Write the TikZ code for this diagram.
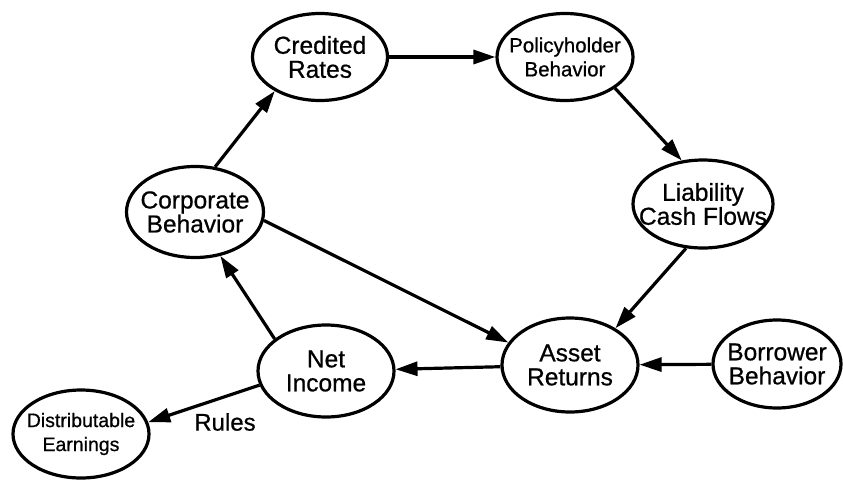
\documentclass[tikz,border=0pt]{standalone}
\usepackage{fontspec}
\setmainfont{Liberation Sans}[FakeBold=0.7]
\usetikzlibrary{shapes.geometric,arrows.meta}
\begin{document}
\begin{tikzpicture}[x=1pt,y=-1pt,
  bub/.style={draw, ellipse, line width=3.2pt, inner sep=0pt},
  txt/.style={align=center, font=\fontsize{24.5}{24}\selectfont, inner sep=0pt},
  stxt/.style={align=center, font=\fontsize{20.5}{24}\selectfont, inner sep=0pt},
  conn/.style={line width=3.2pt, -{Triangle[length=22pt,width=14pt]}}]
\useasboundingbox (0,0) rectangle (843,480);

\node[bub, minimum width=135pt, minimum height=87pt] (cr) at (320,57) {};
\node[txt] (crt) at (cr) {Credited\\Rates};

\node[bub, minimum width=136pt, minimum height=87pt] (ph) at (565,57) {};
\node[stxt] (pht) at (ph) {Policyholder\\Behavior};

\node[bub, minimum width=140pt, minimum height=88pt] (li) at (703,204) {};
\node[txt] (lit) at (li) {Liability\\Cash Flows};

\node[bub, minimum width=137pt, minimum height=91pt] (cb) at (195,212) {};
\node[txt] (cbt) at (cb) {Corporate\\Behavior};

\node[bub, minimum width=136pt, minimum height=94pt] (ar) at (570,365) {};
\node[txt] (art) at (ar) {Asset\\Returns};

\node[bub, minimum width=128pt, minimum height=88pt] (bb) at (777,364) {};
\node[txt] (bbt) at (bb) {Borrower\\Behavior};

\node[bub, minimum width=136pt, minimum height=92pt] (ni) at (326,371) {};
\node[txt] (nit) at (ni) {Net\\Income};

\node[bub, minimum width=136pt, minimum height=88pt] (de) at (81,434) {};
\node[stxt, font=\fontsize{19.5}{24}\selectfont] (det) at (de) {Distributable\\Earnings};

\draw[conn] (cr) -- (ph);
\draw[conn] (ph.-32) -- (li.116);
\draw[conn] (li.-111) -- (ar.39);
\draw[conn] (cb.-7) -- (ar.160);
\draw[conn] (cb.66) -- (cr.-143);
\draw[conn] (bb) -- (ar);
\draw[conn] (ar) -- (ni);
\draw[conn] (ni.148) -- (cb.-60);
\draw[conn] (ni.192) -- (de.10);

\node[font=\fontsize{24}{24}\selectfont, inner sep=0pt] (rules) at (225,422) {Rules};
\end{tikzpicture}
\end{document}
